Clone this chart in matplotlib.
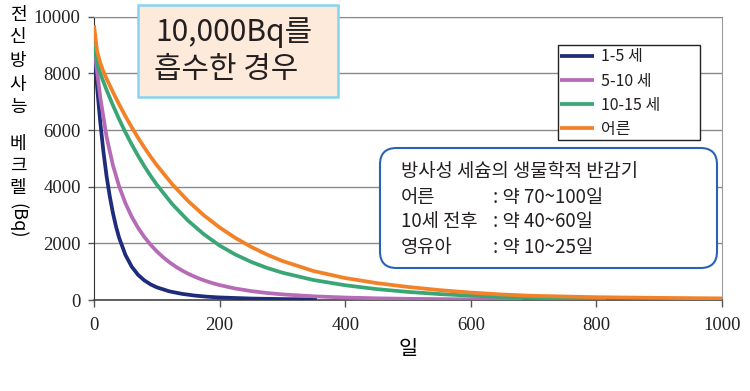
import matplotlib
matplotlib.use('Agg')
import matplotlib.pyplot as plt
from matplotlib.patches import FancyBboxPatch, Rectangle

plt.rcParams['font.family'] = ['Noto Sans CJK KR', 'DejaVu Sans']

# 데이터
labels = ['1-5 세', '5-10 세', '10-15 세', '어른']
colors = ['#1f2b7b', '#b56bb5', '#3aa676', '#f28127']

days_1_5 = [0, 5, 10, 15, 20, 25, 30, 35, 40, 50, 60, 70, 80, 90, 100, 120,
            140, 160, 180, 200, 250, 300, 355]
bq_1_5 = [9000, 7520, 6280, 5245, 4380, 3680, 3090, 2600, 2200, 1595, 1180,
          893, 696, 553, 448, 306, 218, 158, 117, 90, 52, 33, 21]

days_5_10 = [0, 10, 20, 30, 40, 50, 60, 70, 80, 90, 100, 110, 120, 130, 140,
             150, 160, 170, 180, 190, 200, 225, 250, 275, 300, 350, 400, 450,
             500, 600, 683]
bq_5_10 = [8950, 7150, 5765, 4770, 4015, 3420, 2945, 2555, 2230, 1955, 1717,
           1512, 1334, 1180, 1045, 928, 826, 736, 657, 588, 527, 405, 316,
           249, 199, 130, 87, 60, 42, 23, 15]

days_10_15 = [0, 5, 10, 20, 30, 40, 50, 60, 70, 80, 90, 100, 125, 150, 175,
              200, 225, 250, 275, 300, 350, 400, 450, 500, 550, 600, 650, 700,
              750, 816]
bq_10_15 = [9060, 8360, 7995, 7417, 6881, 6384, 5923, 5495, 5098, 4730, 4388,
            4071, 3375, 2798, 2320, 1923, 1606, 1348, 1137, 964, 704, 521, 386,
            286, 210, 152, 108, 75, 52, 30]

days_adult = [0, 5, 10, 15, 20, 30, 40, 50, 60, 70, 80, 90, 100, 125, 150, 175,
              200, 225, 250, 275, 300, 350, 400, 450, 500, 550, 600, 650, 700,
              800, 900, 1000]
bq_adult = [9700, 8777, 8370, 8062, 7816, 7347, 6905, 6490, 6100, 5733, 5389,
            5065, 4760, 4077, 3491, 2990, 2561, 2193, 1878, 1608, 1377, 1020,
            775, 598, 461, 350, 262, 194, 147, 99, 75, 57]

x_ticks = [0, 200, 400, 600, 800, 1000]
y_ticks = [0, 2000, 4000, 6000, 8000, 10000]

fig = plt.figure(figsize=(7.5, 3.91), dpi=100)
fig.patch.set_facecolor('white')
ax = fig.add_axes([0.1253, 0.2327, 0.8374, 0.7246])

series = [(days_1_5, bq_1_5), (days_5_10, bq_5_10),
          (days_10_15, bq_10_15), (days_adult, bq_adult)]
for (d, v), lab, c in zip(series, labels, colors):
    ax.plot(d, v, color=c, lw=2.7, label=lab, solid_capstyle='butt',
            solid_joinstyle='round', zorder=3)

ax.set_xlim(0, 1000)
ax.set_ylim(0, 10000)
ax.set_xticks(x_ticks)
ax.set_yticks(y_ticks)
ax.set_xticklabels([str(t) for t in x_ticks], family='Liberation Serif',
                   fontsize=13.5, color='#222222')
ax.set_yticklabels([str(t) for t in y_ticks], family='Liberation Serif',
                   fontsize=13.5, color='#222222')
ax.tick_params(axis='y', length=4.5, width=1, color='#555555', pad=5)
ax.tick_params(axis='x', length=5, width=1, color='#555555', pad=7)

ax.grid(axis='y', color='#8a8a8a', lw=1.0, zorder=1)
ax.grid(axis='x', visible=False)
ax.spines['left'].set_color('#333333')
ax.spines['bottom'].set_color('#444444')
ax.spines['bottom'].set_linewidth(1.2)
ax.spines['right'].set_color('#9a9a9a')
ax.spines['top'].set_color('#8a8a8a')

ax.set_xlabel('일', fontsize=15, labelpad=3)

# 세로 y축 제목
for ch, y in zip('전신방사능', [15, 37, 61, 85, 107]):
    fig.text(18 / 750, 1 - y / 391, ch, fontsize=13, ha='center', va='center')
for ch, y in zip('베크렐', [144, 166, 188]):
    fig.text(18 / 750, 1 - y / 391, ch, fontsize=13, ha='center', va='center')
fig.text(18 / 750, 1 - 221 / 391, '(Bq)', fontsize=13, ha='center',
         va='center', rotation=270)

# 범례 (테두리는 따로 그림)
legend_frame = Rectangle((558 / 750, 1 - 140 / 391), 142 / 750, 95 / 391,
                         transform=fig.transFigure, facecolor='white',
                         edgecolor='#222222', lw=1.0, zorder=5, clip_on=False)
ax.add_patch(legend_frame)
leg = ax.legend(loc='upper left', bbox_to_anchor=(560 / 750, 1 - 48.5 / 391),
                bbox_transform=fig.transFigure, fontsize=11.5, frameon=False,
                handlelength=2.1, handletextpad=0.45, labelspacing=0.45,
                borderpad=0, borderaxespad=0)
leg.set_zorder(6)
for t in leg.get_texts():
    t.set_fontweight('light')
    t.set_color('#231f20')

# 제목 상자
title_box = Rectangle((138 / 750, 1 - 97 / 391), 200 / 750, 92 / 391,
                      transform=fig.transFigure, facecolor='#fdeadb',
                      edgecolor='#86d4f0', lw=1.8, zorder=6)
fig.patches.append(title_box)
fig.text(155 / 750, 1 - 33 / 391, '10,000Bq를', fontsize=21.5, va='center',
         ha='left', color='#231f20', fontweight='light', zorder=7)
fig.text(154 / 750, 1 - 70 / 391, '흡수한 경우', fontsize=21.5, va='center',
         ha='left', color='#231f20', fontweight='light', zorder=7)

# 반감기 상자
info_box = FancyBboxPatch((380 / 750, 1 - 268 / 391), 337 / 750, 120 / 391,
                          boxstyle='round,pad=0,rounding_size=0.022',
                          mutation_aspect=750 / 391,
                          transform=fig.transFigure, facecolor='white',
                          edgecolor='#2a62b4', lw=1.5, zorder=6)
fig.patches.append(info_box)
fig.text(401 / 750, 1 - 172 / 391, '방사성 세슘의 생물학적 반감기', fontsize=13.5,
         va='center', ha='left', color='#231f20', fontweight='light', zorder=7)
rows_left = ['어른', '10세 전후', '영유아']
rows_right = [': 약 70~100일', ': 약 40~60일', ': 약 10~25일']
for i, (a, b) in enumerate(zip(rows_left, rows_right)):
    y = 1 - (197 + 25 * i) / 391
    fig.text(401 / 750, y, a, fontsize=13.5, va='center', ha='left',
             color='#231f20', fontweight='light', zorder=7)
    fig.text(493 / 750, y, b, fontsize=13.5, va='center', ha='left',
             color='#231f20', fontweight='light', zorder=7)

fig.savefig('out.png', dpi=100, facecolor='white')
